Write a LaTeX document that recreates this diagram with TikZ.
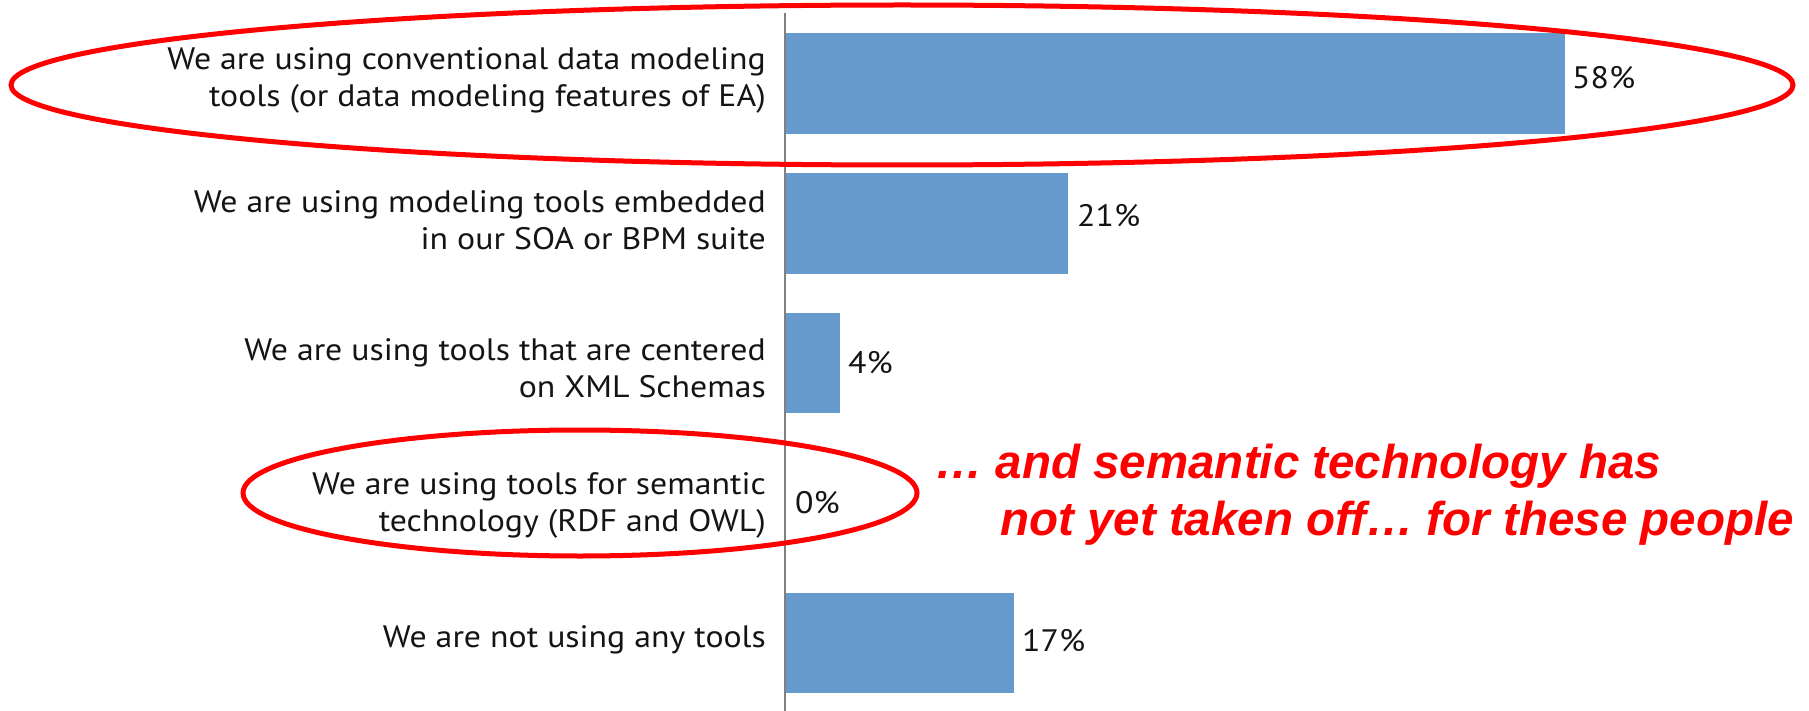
\documentclass[tikz,border=0pt]{standalone}
\usepackage{fontspec}
\setmainfont{PT Sans}
\newfontfamily\lblfont[FakeStretch=1.09]{PT Sans}
\newfontfamily\notefont{Liberation Sans}
\definecolor{barblue}{RGB}{102,153,204}
\definecolor{ringred}{RGB}{255,0,0}
\definecolor{axisgray}{RGB}{128,128,128}
\definecolor{txt}{RGB}{20,20,20}
\begin{document}
\begin{tikzpicture}[x=1pt,y=-1pt,
  lbl/.style={anchor=east, align=right, inner sep=0pt, font=\lblfont\fontsize{31}{37}\selectfont, text=txt},
  pct/.style={anchor=base west, inner sep=0pt, font=\lblfont\fontsize{31}{37}\selectfont, text=txt},
  bar/.style={fill=barblue},
  ring/.style={draw=ringred, line width=5pt},
  note/.style={anchor=base west, inner sep=0pt, text=ringred, font=\notefont\bfseries\itshape\fontsize{47.5}{57}\selectfont}]
\useasboundingbox (0,0) rectangle (1809,711);

% bars
\fill[bar] (786,33)  rectangle (1565,134);
\fill[bar] (786,173) rectangle (1068,274);
\fill[bar] (786,313) rectangle (840,413);
\fill[bar] (786,593) rectangle (1014,693);

% axis
\coordinate (axtop) at (785,13);
\coordinate (axbot) at (785,711);
\draw[axisgray, line width=2pt] (axtop) -- (axbot);

% category labels
\node[lbl] (l1) at (766,80)  {We are using conventional data modeling\\tools (or data modeling features of EA)};
\node[lbl] (l2) at (766,220) {We are using modeling tools embedded\\in our SOA or BPM suite};
\node[lbl] (l3) at (766,368) {We are using tools that are centered\\on XML Schemas};
\node[lbl] (l4) at (766,505) {We are using tools for semantic\\technology (RDF and OWL)};
\node[lbl] (l5) at (766,640) {We are not using any tools};

% percentages
\node[pct] (p1) at (1572,89)  {58\%};
\node[pct] (p2) at (1077,227) {21\%};
\node[pct] (p3) at (848,373)  {4\%};
\node[pct] (p4) at (795,513)  {0\%};
\node[pct] (p5) at (1022,651) {17\%};

% red highlights
\draw[ring] (902,85) ellipse [x radius=891pt, y radius=80pt];
\draw[ring] (580,493) ellipse [x radius=337pt, y radius=63pt];

% note
\node[note] (n1) at (935,478)  {… and semantic technology has};
\node[note] (n2) at (1000,535) {not yet taken off… for these people};
\end{tikzpicture}
\end{document}
